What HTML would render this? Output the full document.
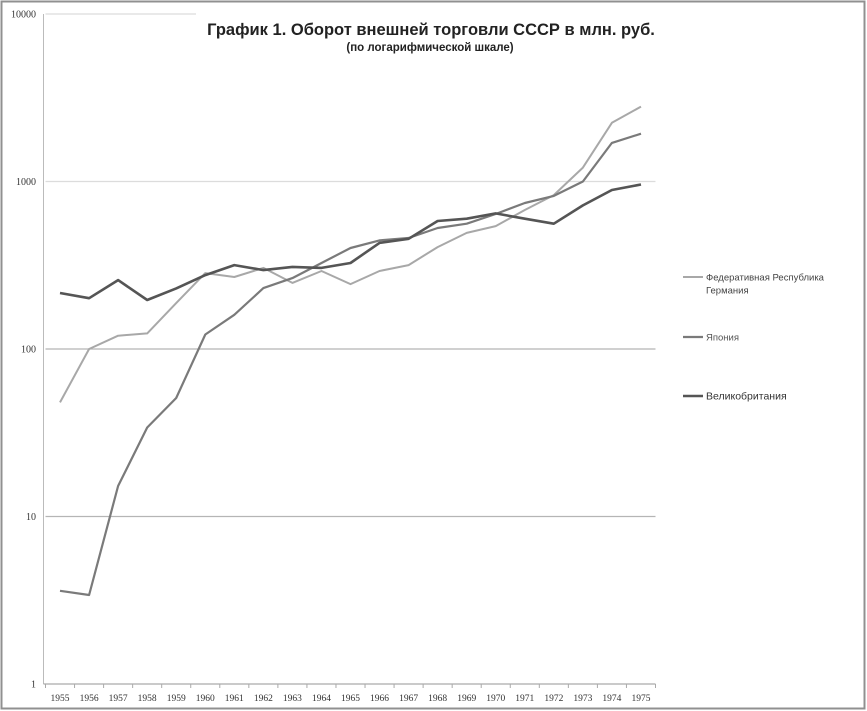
<!DOCTYPE html>
<html><head><meta charset="utf-8"><style>
body{margin:0;background:#fff;}
svg{display:block;font-family:"Liberation Sans",sans-serif;}
</style></head><body>
<svg id="chart" width="867" height="711" viewBox="0 0 867 711" xmlns="http://www.w3.org/2000/svg">
<rect x="1.5" y="1.5" width="863" height="707" fill="#fff" stroke="#909090" stroke-width="2"/>
<g id="grid"></g>
<g id="axes"></g>
<g id="series"></g>
<rect x="196" y="8" width="470" height="52" fill="#fff"/>
<text x="431" y="35" text-anchor="middle" font-size="16.5" font-weight="bold" fill="#222">График 1.  Оборот внешней торговли СССР в млн. руб.</text>
<text x="430" y="51" text-anchor="middle" font-size="11.5" font-weight="bold" fill="#222">(по логарифмической шкале)</text>
<g id="legend"></g>
</svg>
<script>
const years = [1955,1956,1957,1958,1959,1960,1961,1962,1963,1964,1965,1966,1967,1968,1969,1970,1971,1972,1973,1974,1975];
const germany = [48,100,120,124,188,284,269,305,248,292,244,292,317,406,493,542,676,830,1210,2240,2800];
const japan = [3.6,3.4,15.2,34,51,122,160,231,265,326,401,445,460,528,560,640,744,820,1000,1700,1930];
const uk = [216,201,258,196,230,276,317,296,309,305,326,430,455,581,600,645,600,560,720,890,960];
const yTicks = [1,10,100,1000,10000];
const seriesNames = ["Федеративная Республика Германия","Япония","Великобритания"];

const NS = "http://www.w3.org/2000/svg";
const left = 45.5, right = 655.5, yTop = 14, yBot = 684;
const band = (right-left)/years.length;
function x(i){ return left + band*(i+0.5); }
function y(v){ return yBot - (Math.log10(v) - 0)/4*(yBot-yTop); }
function mk(tag, attrs, parent){ const e=document.createElementNS(NS,tag); for(const k in attrs) e.setAttribute(k,attrs[k]); parent.appendChild(e); return e; }

const grid = document.getElementById('grid');
yTicks.forEach(t=>{
  if(t>1){
    const g = mk('line',{x1:left,x2:right,y1:y(t),y2:y(t),stroke:(t===100||t===10)?'#b5b5b5':'#dcdcdc','stroke-width':1.2},grid);
    
    
  }
  const lb = mk('text',{x:36,y:y(t)+3.5,'text-anchor':'end','font-size':10,'font-family':'Liberation Serif, serif',fill:'#333'},grid);
  lb.textContent = t;
  
  
});

const axes = document.getElementById('axes');
const ya = mk('line',{x1:left-2,x2:left-2,y1:yTop,y2:yBot,stroke:'#bbb','stroke-width':1},axes);


const xa = mk('line',{x1:left-2,x2:right,y1:yBot,y2:yBot,stroke:'#aaa','stroke-width':1.2},axes);


for(let i=0;i<=years.length;i++){
  const tk = mk('line',{x1:left+band*i,x2:left+band*i,y1:yBot,y2:yBot+4,stroke:'#aaa'},axes);
  
  
}
years.forEach((yr,i)=>{
  const t = mk('text',{x:x(i),y:701,'text-anchor':'middle','font-size':9.5,'font-family':'Liberation Serif, serif',fill:'#333'},axes);
  t.textContent = yr;
  
  
});

const ser = document.getElementById('series');
const defs = [[germany,'#a8a8a8',2,'germany-line'],[japan,'#7a7a7a',2.2,'japan-line'],[uk,'#555',2.6,'uk-line']];
defs.forEach(d=>{
  const pts = d[0].map((v,i)=>x(i).toFixed(1)+','+y(v).toFixed(1)).join(' ');
  const p = mk('polyline',{points:pts,fill:'none',stroke:d[1],'stroke-width':d[2],'stroke-linejoin':'round'},ser);
  
  
});

const lg = document.getElementById('legend');
const legY = [277,337,396];
const legC = [['#a8a8a8',2],['#7a7a7a',2.2],['#555',2.6]];
seriesNames.forEach((n,i)=>{
  const g = mk('g',{},lg);
  
  
  mk('line',{x1:683,x2:703,y1:legY[i],y2:legY[i],stroke:legC[i][0],'stroke-width':legC[i][1]},g);
  const fs = i===2 ? 10.5 : 9.5;
  if(i===0){
    const t1 = mk('text',{x:706,y:legY[i]+3.5,'font-size':fs,fill:'#444'},g); t1.textContent='Федеративная Республика';
    const t2 = mk('text',{x:706,y:legY[i]+16.5,'font-size':fs,fill:'#444'},g); t2.textContent='Германия';
  } else {
    const t = mk('text',{x:706,y:legY[i]+3.5,'font-size':fs,fill:i===2?'#333':'#555'},g); t.textContent=n;
  }
});
</script>
</body></html>
